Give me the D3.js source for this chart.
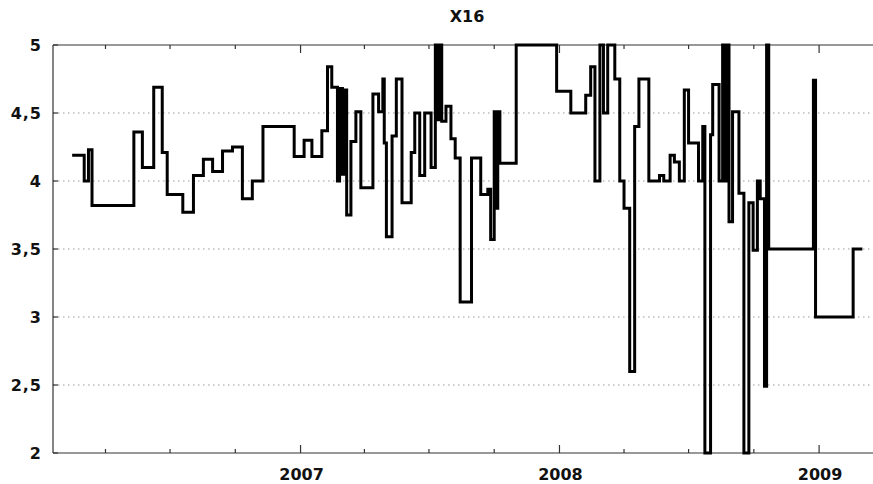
<!DOCTYPE html>
<html>
<head>
<meta charset="utf-8">
<script src="https://cdn.jsdelivr.net/npm/d3@7"></script>
<style>
html,body{margin:0;padding:0;background:#fff;}
svg{display:block;}
text{font-family:"DejaVu Sans",Verdana,sans-serif;font-weight:bold;fill:#111;}
</style>
</head>
<body>
<svg id="chart" width="873" height="484"></svg>
<script>
const title = "X16";
const dates = [
"2006-02-13","2006-03-02","2006-03-08","2006-03-13","2006-05-11","2006-05-23","2006-06-08","2006-06-20","2006-06-27","2006-07-19",
"2006-08-03","2006-08-17","2006-08-30","2006-09-13","2006-09-27","2006-10-11","2006-10-25","2006-11-09","2006-12-23","2007-01-06",
"2007-01-17","2007-01-31","2007-02-08","2007-02-14","2007-02-22","2007-02-25","2007-03-01","2007-03-03","2007-03-07","2007-03-13",
"2007-03-20","2007-03-27","2007-04-13","2007-04-21","2007-04-27","2007-04-29","2007-05-02","2007-05-10","2007-05-16","2007-05-24",
"2007-06-06","2007-06-11","2007-06-18","2007-06-25","2007-07-04","2007-07-10","2007-07-13","2007-07-15","2007-07-19","2007-07-25",
"2007-08-01","2007-08-07","2007-08-14","2007-08-30","2007-09-12","2007-09-22","2007-09-26","2007-10-01","2007-10-03","2007-10-06",
"2007-10-09","2007-11-01","2007-12-28","2008-01-17","2008-02-07","2008-02-14","2008-02-20","2008-02-27","2008-03-03","2008-03-09",
"2008-03-19","2008-03-26","2008-04-01","2008-04-09","2008-04-16","2008-04-22","2008-05-06","2008-05-21","2008-05-27","2008-06-05",
"2008-06-11","2008-06-18","2008-06-25","2008-07-01","2008-07-15","2008-07-21","2008-07-24","2008-08-01","2008-08-04","2008-08-13",
"2008-08-18","2008-08-22","2008-08-24","2008-08-27","2008-09-01","2008-09-10","2008-09-17","2008-09-24","2008-09-30","2008-10-06",
"2008-10-10","2008-10-16","2008-10-19","2008-10-22","2008-12-24","2008-12-27","2009-02-18","2009-03-03"
];
const values = [
4.19,4.00,4.23,3.82,4.36,4.10,4.69,4.21,3.90,3.77,
4.04,4.16,4.07,4.22,4.25,3.87,4.00,4.40,4.18,4.30,
4.18,4.37,4.84,4.69,4.00,4.68,4.05,4.67,3.75,4.29,
4.51,3.95,4.64,4.51,4.75,4.28,3.59,4.33,4.75,3.84,
4.21,4.50,4.04,4.50,4.10,5.00,4.45,5.00,4.44,4.55,
4.31,4.17,3.11,4.17,3.90,3.94,3.57,4.51,3.80,4.51,
4.13,5.00,4.66,4.50,4.63,4.84,4.00,5.00,4.50,5.00,
4.75,4.00,3.80,2.60,4.40,4.75,4.00,4.04,4.00,4.19,
4.14,4.00,4.67,4.28,4.00,4.40,2.00,4.34,4.71,4.00,
5.00,4.00,5.00,3.70,4.51,3.91,2.00,3.84,3.49,4.00,
3.87,2.49,5.00,3.50,4.74,3.00,3.50,3.50
];
const yTicks = [2, 2.5, 3, 3.5, 4, 4.5, 5];
const yTickLabels = ["2", "2,5", "3", "3,5", "4", "4,5", "5"];
const xDomain = ["2006-01-17", "2009-03-18"];
const yearTicks = ["2007-01-01", "2008-01-01", "2009-01-01"];
const yearLabels = ["2007", "2008", "2009"];

(function () {
const parse = d3.timeParse("%Y-%m-%d");
const data = dates.map((d, i) => ({date: parse(d), value: values[i]}));

const mLeft = 53, mRight = 873, mTop = 45, mBottom = 453;
const svg = d3.select("#chart");

const x = d3.scaleTime().domain(xDomain.map(parse)).range([mLeft, mRight]);
const y = d3.scaleLinear().domain([2, 5]).range([mBottom, mTop]);

// grid
svg.append("g").selectAll("line")
  .data(yTicks.filter(v => v > 2 && v < 5))
  .join("line")
  .attr("x1", mLeft).attr("x2", mRight)
  .attr("y1", d => y(d)).attr("y2", d => y(d))
  .attr("stroke", "#999").attr("stroke-width", 1)
  .attr("stroke-dasharray", "1.5,3.5");

// frame lines
const axisColor = "#333";
svg.append("line").attr("x1", mLeft).attr("x2", mRight).attr("y1", mTop).attr("y2", mTop).attr("stroke", axisColor).attr("stroke-width", 1.2);
svg.append("line").attr("x1", mLeft).attr("x2", mRight).attr("y1", mBottom).attr("y2", mBottom).attr("stroke", axisColor).attr("stroke-width", 1.2);
svg.append("line").attr("x1", mLeft).attr("x2", mLeft).attr("y1", mTop).attr("y2", mBottom).attr("stroke", axisColor).attr("stroke-width", 1.2);

// x ticks (quarterly minor, yearly major), bottom and top, pointing inward
const minorTicks = x.ticks(d3.timeMonth.every(3)).filter(d => d.getMonth() !== 0);
const majorTicks = yearTicks.map(parse);
const tickG = svg.append("g").attr("stroke", axisColor).attr("stroke-width", 1.2);
minorTicks.forEach(d => {
  tickG.append("line").attr("x1", x(d)).attr("x2", x(d)).attr("y1", mBottom).attr("y2", mBottom - 4);
  tickG.append("line").attr("x1", x(d)).attr("x2", x(d)).attr("y1", mTop).attr("y2", mTop + 4);
});
majorTicks.forEach(d => {
  tickG.append("line").attr("x1", x(d)).attr("x2", x(d)).attr("y1", mBottom).attr("y2", mBottom - 8);
  tickG.append("line").attr("x1", x(d)).attr("x2", x(d)).attr("y1", mTop).attr("y2", mTop + 8);
});
// y ticks
yTicks.forEach(v => {
  tickG.append("line").attr("x1", mLeft).attr("x2", mLeft + 5).attr("y1", y(v)).attr("y2", y(v));
});

// y labels
svg.append("g").selectAll("text")
  .data(yTicks)
  .join("text")
  .attr("x", 42).attr("y", d => y(d))
  .attr("dy", "0.36em")
  .attr("text-anchor", "end")
  .attr("font-size", 16)
  .attr("letter-spacing", 1)
  .text((d, i) => yTickLabels[i]);

// x labels
svg.append("g").selectAll("text")
  .data(majorTicks)
  .join("text")
  .attr("x", d => x(d) + 1).attr("y", 480)
  .attr("text-anchor", "middle")
  .attr("font-size", 16)
  .text((d, i) => yearLabels[i]);

// title
svg.append("text")
  .attr("x", (mLeft + mRight) / 2 + 4).attr("y", 22)
  .attr("text-anchor", "middle")
  .attr("font-size", 16)
  .text(title);

// series
const line = d3.line()
  .x(d => x(d.date))
  .y(d => y(d.value))
  .curve(d3.curveStepAfter);
svg.append("path")
  .datum(data)
  .attr("fill", "none")
  .attr("stroke", "#000")
  .attr("stroke-width", 3)
  .attr("stroke-linejoin", "miter")
  .attr("d", line);
})();
</script>
</body>
</html>
